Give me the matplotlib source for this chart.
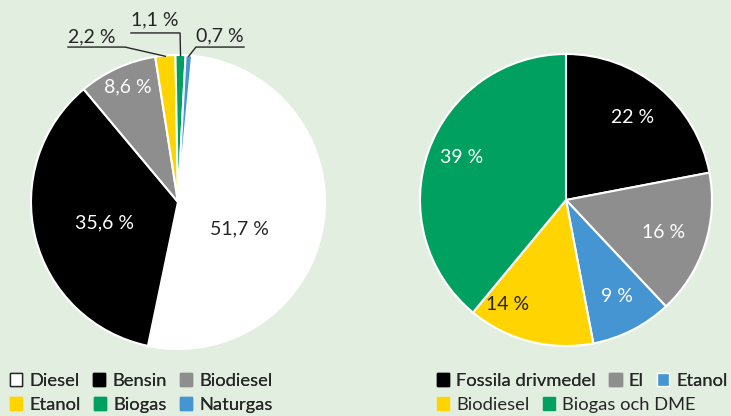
import numpy as np
import matplotlib.pyplot as plt
from matplotlib.patches import Patch

plt.rcParams['font.family'] = ['Lato', 'DejaVu Sans']

BG = '#E2EEE0'
DARK = '#262626'
FS_LAB = 14
FS_LEG = 13.2

# left pie: fuel mix
left_names = ['Diesel', 'Bensin', 'Biodiesel', 'Etanol', 'Biogas', 'Naturgas']
left_values = [51.7, 35.6, 8.6, 2.2, 1.1, 0.7]
left_labels = ['51,7 %', '35,6 %', '8,6 %', '2,2 %', '1,1 %', '0,7 %']
left_colors = ['#FFFFFF', '#000000', '#8E8E8E', '#FFD400', '#00A060', '#4495D1']

# right pie
right_names = ['Fossila drivmedel', 'El', 'Etanol', 'Biodiesel', 'Biogas och DME']
right_values = [22, 16, 9, 14, 39]
right_labels = ['22 %', '16 %', '9 %', '14 %', '39 %']
right_colors = ['#000000', '#8E8E8E', '#4495D1', '#FFD400', '#00A060']

W, H = 731, 416
fig = plt.figure(figsize=(W / 100, H / 100), dpi=100)
fig.patch.set_facecolor(BG)


def pie_axes(cx, cy, r):
    return fig.add_axes([(cx - r) / W, (H - cy - r) / H, 2 * r / W, 2 * r / H])


# ---- left pie ----
ax1 = pie_axes(178, 202, 147)
wl, _ = ax1.pie(left_values, colors=left_colors, startangle=84.5, counterclock=False,
                wedgeprops=dict(edgecolor='white', linewidth=1.5))
ax1.set_xlim(-1, 1)
ax1.set_ylim(-1, 1)
ax1.axis('off')

inside_pos = [(0.42, -0.18), (-0.50, -0.14), (-0.34, 0.78)]
inside_col = [DARK, 'white', 'white']
for i in range(3):
    ax1.text(*inside_pos[i], left_labels[i], color=inside_col[i], fontsize=FS_LAB,
             ha='center', va='center')

# outside labels with leader lines
out_text = [(-0.585, 1.122), (-0.156, 1.238), (0.286, 1.129)]
out_line = [(-0.748, -0.361, 1.054), (-0.32, 0.014, 1.150), (0.449, 0.122, 1.054)]
for k, i in enumerate(range(3, 6)):
    w = wl[i]
    mid = np.deg2rad((w.theta1 + w.theta2) / 2)
    ex, ey = np.cos(mid) * 0.995, np.sin(mid) * 0.995
    x0, x1, y = out_line[k]
    ax1.plot([x0, x1, ex], [y, y, ey], color=DARK, lw=1, clip_on=False)
    ax1.text(*out_text[k], left_labels[i], color=DARK, fontsize=FS_LAB,
             ha='center', va='center', clip_on=False)

# ---- right pie ----
ax2 = pie_axes(566, 200, 146)
ax2.pie(right_values, colors=right_colors, startangle=90, counterclock=False,
        wedgeprops=dict(edgecolor='white', linewidth=1.5))
ax2.set_xlim(-1, 1)
ax2.set_ylim(-1, 1)
ax2.axis('off')

right_pos = [(0.459, 0.562), (0.671, -0.226), (0.349, -0.664), (-0.397, -0.719), (-0.712, 0.288)]
right_tc = ['white', 'white', 'white', DARK, 'white']
for i in range(5):
    ax2.text(*right_pos[i], right_labels[i], color=right_tc[i], fontsize=FS_LAB,
             ha='center', va='center')


# ---- legends, one row each ----
def legend_row(names, colors, edges, x, y):
    handles = [Patch(facecolor=c, edgecolor=e, linewidth=1) for c, e in zip(colors, edges)]
    leg = fig.legend(handles, names, loc='center left', bbox_to_anchor=(x / W, 1 - y / H),
                     ncol=len(names), frameon=False, fontsize=FS_LEG, handlelength=0.66,
                     handleheight=0.66, handletextpad=0.38, columnspacing=0.75,
                     borderpad=0, borderaxespad=0)
    for t in leg.get_texts():
        t.set_color(DARK)
    return leg


l1 = legend_row(left_names[:3], left_colors[:3], [DARK, '#000000', '#8E8E8E'], 10, 381)
fig.add_artist(l1)
l2 = legend_row(left_names[3:], left_colors[3:], left_colors[3:], 10, 405)
fig.add_artist(l2)
r1 = legend_row(right_names[:3], right_colors[:3], ['#000000', '#8E8E8E', 'white'], 437, 381)
fig.add_artist(r1)
r2 = legend_row(right_names[3:], right_colors[3:], right_colors[3:], 437, 405)

fig.savefig('out.png', dpi=100, facecolor=BG)
